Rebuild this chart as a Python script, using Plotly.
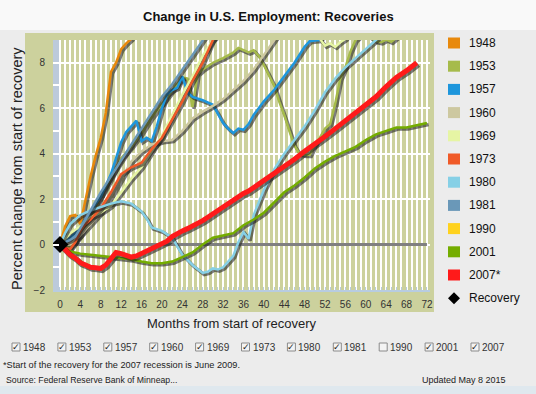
import plotly.graph_objects as go

# ---------------- data ----------------
series_names = ["1948", "1953", "1957", "1960", "1969", "1973", "1980", "1981", "1990", "2001", "2007*"]
series_colors = ["#e8890c", "#a6bb4b", "#1e96dc", "#cdc8a0", "#e6f5a4", "#f05a28",
                 "#86d0e6", "#6a98b8", "#ffd21e", "#74ad00", "#ff1a1a"]
checkbox_labels = ["1948", "1953", "1957", "1960", "1969", "1973", "1980", "1981", "1990", "2001", "2007"]
checked = [True, True, True, True, True, True, True, True, False, True, True]

m1948 = [0, 1, 2, 3, 4, 5, 6, 7, 8, 9, 10, 11, 12, 13, 14, 15, 16]
v1948 = [0, 0.8, 1.25, 1.3, 0.9, 2.0, 3.0, 3.9, 4.7, 5.8, 7.6, 8.0, 8.6, 8.85, 9.05, 9.5, 9.9]

m1953 = [0, 1, 2, 3, 4, 5, 6, 7, 8, 9, 10, 11, 12, 14, 16, 18, 20, 22, 24, 25, 26, 27, 28, 30, 32,
         34, 35, 36, 37, 38, 39, 40, 42, 43, 44, 45, 46, 47, 48, 49, 50, 51, 52, 53, 54, 55, 56,
         57, 58, 59, 60, 61, 62, 63, 64, 65, 66, 67]
v1953 = [0, -0.1, -0.1, 0.1, 0.4, 0.8, 1.2, 1.6, 2.1, 2.5, 2.9, 3.4, 3.8, 4.3, 4.9, 5.6, 6.2, 6.8, 7.35, 7.3, 6.05, 7.5, 7.7, 8.0, 8.2,
         8.45, 8.65, 8.55, 8.45, 8.55, 8.3, 7.9, 7.0, 6.3, 5.7, 5.0, 4.35, 4.0, 3.95, 3.95, 4.4, 4.7, 5.1, 5.3, 6.2, 7.3, 7.8,
         8.5, 9.0, 9.2, 9.3, 9.1, 8.95, 8.9, 9.02, 8.92, 9.1, 9.4]

m1957 = [0, 1, 2, 3, 4, 5, 6, 7, 8, 9, 10, 11, 12, 13, 14, 15, 16, 17, 18, 19, 20, 21, 22, 23, 24, 25,
         26, 28, 30, 31, 32, 33, 34, 35, 36, 37, 38, 40, 42, 44, 46, 48, 49, 50, 51, 52]
v1957 = [0, 0.1, 0.3, 0.5, 0.8, 1.1, 1.4, 1.8, 2.1, 2.6, 3.1, 3.8, 4.5, 4.95, 5.2, 5.45, 4.55, 4.7, 4.55, 5.2, 6.0, 6.6, 6.8, 6.9, 7.4, 6.7,
         6.5, 6.35, 6.15, 5.75, 5.35, 5.1, 4.9, 5.1, 5.05, 5.3, 5.7, 6.3, 6.8, 7.4, 8.0, 8.7, 8.95, 8.98, 9.0, 9.3]

m1960 = [0, 2, 4, 6, 8, 10, 12, 14, 16, 18, 20, 22, 24, 26, 28, 30, 32, 34, 36, 38, 40, 42, 43]
v1960 = [0, 0.0, 0.4, 0.9, 1.4, 2.1, 2.9, 3.65, 4.1, 4.4, 4.55, 4.6, 5.0, 5.55, 5.85, 6.1, 6.4, 6.8, 7.2, 7.7, 8.35, 8.95, 9.3]

m1969 = [0, 2, 4, 6, 8, 10, 12, 14, 16, 18, 20, 22, 24, 26, 28, 30, 36, 42, 48, 50, 51, 52, 53, 54, 55, 56, 57]
v1969 = [0, 0.5, 0.8, 1.2, 1.4, 1.7, 2.3, 2.9, 3.4, 4.1, 4.8, 5.7, 6.6, 7.4, 8.3, 9.0, 10.3, 10.6, 10.0, 9.5, 9.05, 8.75, 8.85, 8.7, 8.9, 9.05, 9.4]

m1973 = [0, 1, 2, 3, 4, 5, 6, 8, 10, 12, 14, 16, 18, 20, 22, 24, 26, 28, 30, 31]
v1973 = [0, -0.15, -0.2, 0.1, 0.6, 0.9, 1.1, 1.6, 2.3, 3.1, 3.4, 3.6, 4.2, 4.7, 5.5, 6.3, 7.2, 8.0, 9.0, 9.4]

m1980 = [0, 1, 2, 4, 6, 8, 10, 12, 14, 16, 17, 18, 20, 22, 24, 26, 28, 29, 30, 31, 32, 34, 35, 36, 37,
         38, 40, 42, 44, 46, 48, 50, 52, 54, 56, 58, 60, 62, 64]
v1980 = [0, 0.5, 0.9, 1.3, 1.5, 1.65, 1.8, 1.9, 1.8, 1.45, 1.15, 0.75, 0.6, 0.3, -0.45, -0.9, -1.25, -1.2, -1.05, -1.1, -1.0, -0.5, 0.1, 0.55, 0.25,
         1.3, 2.4, 3.3, 4.0, 4.6, 5.2, 5.9, 6.7, 7.3, 7.8, 8.2, 8.6, 9.0, 9.4]

m1981 = [0, 1, 2, 3, 4, 5, 6, 8, 10, 12, 14, 16, 18, 20, 22, 24, 26, 28, 29]
v1981 = [0, 0.1, 0.2, 0.35, 0.7, 1.1, 1.5, 2.3, 3.0, 3.7, 4.4, 5.1, 5.8, 6.5, 7.05, 7.7, 8.35, 9.0, 9.3]

m2001 = [0, 1, 2, 4, 6, 8, 10, 12, 14, 16, 18, 20, 22, 24, 26, 28, 30, 32, 34, 36, 38, 40, 42, 44, 46,
         48, 50, 52, 54, 56, 58, 60, 62, 64, 66, 68, 70, 72]
v2001 = [0, -0.2, -0.3, -0.4, -0.45, -0.5, -0.55, -0.6, -0.65, -0.75, -0.82, -0.82, -0.75, -0.55, -0.35, 0.0, 0.3, 0.4, 0.5, 0.85, 1.1, 1.4, 1.85, 2.3, 2.6,
         2.95, 3.35, 3.65, 3.9, 4.1, 4.3, 4.6, 4.85, 5.0, 5.15, 5.15, 5.25, 5.35]

m2007 = [0, 1, 2, 3, 4, 5, 6, 7, 8, 9, 10, 11, 12, 13, 14, 15, 16, 17, 18, 19, 20, 21, 22, 23, 24, 25,
         26, 27, 28, 29, 30, 31, 32, 33, 34, 35, 36, 37, 38, 39, 40, 42, 44, 46, 48, 50, 52, 54, 56,
         58, 60, 62, 64, 66, 68, 70]
v2007 = [0, -0.25, -0.45, -0.6, -0.8, -0.9, -1.0, -1.02, -1.05, -0.9, -0.6, -0.35, -0.4, -0.45, -0.55, -0.5, -0.4, -0.3, -0.2, -0.1, 0.05, 0.15, 0.35, 0.5, 0.6, 0.7,
         0.8, 0.9, 1.05, 1.2, 1.35, 1.5, 1.65, 1.85, 2.0, 2.15, 2.25, 2.35, 2.5, 2.65, 2.85, 3.15, 3.45, 3.75, 4.1, 4.4, 4.75, 5.1, 5.45,
         5.8, 6.15, 6.5, 6.95, 7.35, 7.65, 8.0]

series_data = {
    "1948": (m1948, v1948), "1953": (m1953, v1953), "1957": (m1957, v1957), "1960": (m1960, v1960),
    "1969": (m1969, v1969), "1973": (m1973, v1973), "1980": (m1980, v1980), "1981": (m1981, v1981),
    "2001": (m2001, v2001), "2007*": (m2007, v2007),
}
recovery_x = [0]
recovery_y = [0]

x_ticks = list(range(0, 73))
y_ticks = [-2, 0, 2, 4, 6, 8]
y_minor = [-1, 1, 3, 5, 7]

# ---------------- layout helpers (pixel -> paper) ----------------
W, H = 536, 394
PL, PR, PT, PB = 53, 430, 40, 290


def px(x):
    return (x - PL) / (PR - PL)


def py(y):
    return (PB - y) / (PB - PT)


FONT = "Liberation Sans, Arial, sans-serif"
fig = go.Figure()

fig.add_trace(go.Scatter(x=[0, 72], y=[0, 0], mode="lines",
                         line=dict(color="#808080", width=3), hoverinfo="skip", showlegend=False))

for name, color in zip(series_names, series_colors):
    if name not in series_data:
        continue
    xs, ys = series_data[name]
    w = 5 if name == "2007*" else 2.5
    fig.add_trace(go.Scatter(x=[v + 0.32 for v in xs], y=[v - 0.075 for v in ys], mode="lines",
                             line=dict(color="rgba(30,30,30,0.58)", width=w + 0.8),
                             hoverinfo="skip", showlegend=False))
    fig.add_trace(go.Scatter(x=xs, y=ys, mode="lines", name=name,
                             line=dict(color=color, width=w), showlegend=False))

fig.add_trace(go.Scatter(x=recovery_x, y=recovery_y, mode="markers", name="Recovery",
                         marker=dict(symbol="diamond", size=13, color="black"), showlegend=False))

shapes = []
annotations = []


def text(t, x, y, size, xanchor="center", color="#222", family=FONT, angle=0):
    annotations.append(dict(text=t, xref="paper", yref="paper", x=px(x), y=py(y),
                            xanchor=xanchor, yanchor="middle", showarrow=False, textangle=angle,
                            font=dict(family=family, size=size, color=color)))


# page decoration
shapes.append(dict(type="rect", xref="paper", yref="paper", x0=px(0), x1=px(W), y0=py(0), y1=py(30),
                   fillcolor="#f9f9f9", line=dict(width=0), layer="below"))
shapes.append(dict(type="rect", xref="paper", yref="paper", x0=px(0), x1=px(W), y0=py(386), y1=py(H),
                   fillcolor="#dfe8ee", line=dict(width=0), layer="below"))
shapes.append(dict(type="rect", xref="paper", yref="paper", x0=px(25), x1=px(434), y0=py(312), y1=py(33),
                   fillcolor="#ccd19d", line=dict(width=0), layer="below"))
shapes.append(dict(type="rect", xref="x", yref="y", x0=-1.37, x1=-0.15, y0=-2, y1=9,
                   fillcolor="#bccadb", line=dict(width=0), layer="below"))

text("<b>Change in U.S. Employment: Recoveries</b>", 268, 17, 13, color="#111")
text("Months from start of recovery", 232, 323, 13)
text("Percent change from start of recovery", 17, 169, 14.5, angle=-90)

# right-hand legend
leg_y0, leg_dy = 43, 23.2
for i, (name, color) in enumerate(zip(series_names, series_colors)):
    yc = leg_y0 + i * leg_dy
    shapes.append(dict(type="rect", xref="paper", yref="paper", x0=px(448), x1=px(460),
                       y0=py(yc - 5.5), y1=py(yc + 5.5), fillcolor=color, line=dict(width=0)))
    text(name, 467, yc, 12, xanchor="left", color="#111")
yc = leg_y0 + len(series_names) * leg_dy
shapes.append(dict(type="path", xref="paper", yref="paper",
                   path=f"M {px(454)},{py(yc - 6)} L {px(460)},{py(yc)} L {px(454)},{py(yc + 6)} L {px(448)},{py(yc)} Z",
                   fillcolor="black", line=dict(width=0)))
text("Recovery", 467, yc, 12, xanchor="left", color="#111")

# checkbox row
cb_x0, cb_dx, cb_y = 12, 45.9, 347
for i, (lab, chk) in enumerate(zip(checkbox_labels, checked)):
    x = cb_x0 + i * cb_dx
    shapes.append(dict(type="rect", xref="paper", yref="paper", x0=px(x), x1=px(x + 8),
                       y0=py(cb_y - 4), y1=py(cb_y + 4), fillcolor="#f4f4f4",
                       line=dict(color="#8a8a8a", width=1)))
    if chk:
        text("✓", x + 4, cb_y, 9, family="DejaVu Sans", color="#222")
    text(lab, x + 9, cb_y, 10, xanchor="left", color="#333")

text("*Start of the recovery for the 2007 recession is June 2009.", 1, 365, 9.2, xanchor="left")
text("Source: Federal Reserve Bank of Minneap...", 4, 380, 8.7, xanchor="left")
text("Updated May 8 2015", 508, 380, 9, xanchor="right")

fig.update_layout(
    width=W, height=H,
    margin=dict(l=PL, r=W - PR, t=PT, b=H - PB, pad=0),
    paper_bgcolor="#ececec", plot_bgcolor="#ccd19d",
    showlegend=False,
    shapes=shapes, annotations=annotations,
    xaxis=dict(range=[-1.37, 72.6], tickvals=x_ticks,
               ticktext=[str(v) if v % 4 == 0 else "" for v in x_ticks],
               showgrid=True, gridcolor="white", gridwidth=1.6, zeroline=False,
               showline=True, linecolor="#b8cce0", linewidth=2,
               ticks="inside", ticklen=3, tickcolor="#b8cce0", ticklabelstandoff=4,
               tickfont=dict(family=FONT, size=10, color="#333")),
    yaxis=dict(range=[-2, 9], tickvals=y_ticks, showgrid=True, gridcolor="white", gridwidth=2,
               zeroline=False, showline=False, ticks="inside", ticklen=6, tickcolor="white", tickwidth=2,
               minor=dict(tickvals=y_minor, ticks="inside", ticklen=6, tickcolor="white", tickwidth=2),
               ticklabelstandoff=7, tickfont=dict(family=FONT, size=10, color="#333")),
)

fig.write_html("out.html", config={"displayModeBar": False},
               post_script="document.body.style.margin='0';")
